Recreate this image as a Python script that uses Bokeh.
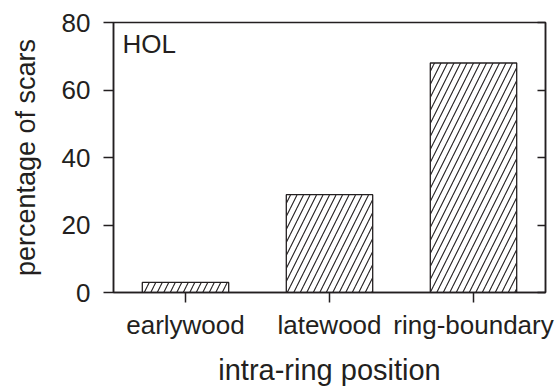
from bokeh.plotting import figure
from bokeh.models import LinearAxis, FactorRange, Range1d, FixedTicker, Label
from bokeh.embed import file_html
from bokeh.resources import INLINE

categories = ["earlywood", "latewood", "ring-boundary"]
percentages = [3, 29, 68]
y_ticks = [0, 20, 40, 60, 80]

FONT = "Liberation Sans"
INK = "#231f20"

p = figure(width=556, height=389, x_range=FactorRange(*categories, range_padding=0),
           y_range=Range1d(0, 80), output_backend="svg", toolbar_location=None,
           min_border_left=113, min_border_right=11, min_border_top=22, min_border_bottom=97)
p.xgrid.visible = False
p.ygrid.visible = False
p.outline_line_color = INK
p.outline_line_width = 1.5
p.background_fill_color = "white"
p.border_fill_color = "white"

p.vbar(x=categories, top=percentages, width=0.6, fill_color="white", line_color=INK,
       line_width=1.3, hatch_pattern="/", hatch_color=INK, hatch_scale=13, hatch_weight=1.1)

# left axis
ya = p.yaxis[0]
ya.ticker = FixedTicker(ticks=y_ticks)
ya.minor_tick_line_color = None
ya.major_tick_in = 0
ya.major_tick_out = 10
ya.major_tick_line_width = 1.5
ya.axis_line_width = 1.5
ya.axis_line_color = INK
ya.major_tick_line_color = INK
ya.major_label_text_font = FONT
ya.major_label_text_font_size = "26px"
ya.major_label_text_color = INK
ya.major_label_standoff = 13
ya.axis_label = "percentage of scars"
ya.axis_label_text_font = FONT
ya.axis_label_text_font_size = "27px"
ya.axis_label_text_font_style = "normal"
ya.axis_label_text_color = INK
ya.axis_label_standoff = 18

# bottom axis
xa = p.xaxis[0]
xa.major_tick_in = 0
xa.major_tick_out = 10
xa.major_tick_line_width = 1.5
xa.axis_line_width = 1.5
xa.axis_line_color = INK
xa.major_tick_line_color = INK
xa.major_label_text_font = FONT
xa.major_label_text_font_size = "26px"
xa.major_label_text_color = INK
xa.major_label_standoff = 7
xa.axis_label = "intra-ring position"
xa.axis_label_text_font = FONT
xa.axis_label_text_font_size = "29px"
xa.axis_label_text_font_style = "normal"
xa.axis_label_text_color = INK
xa.axis_label_standoff = 11

# right axis with inward ticks, no labels
ra = LinearAxis(ticker=FixedTicker(ticks=y_ticks),
                major_label_overrides={t: "" for t in y_ticks},
                major_tick_in=8, major_tick_out=0, minor_tick_line_color=None,
                axis_line_color=INK, axis_line_width=1.5, major_tick_line_color=INK,
                major_tick_line_width=1.5, major_label_standoff=0)
p.add_layout(ra, "right")

p.add_layout(Label(x=9, y=234, x_units="screen", y_units="screen", text="HOL",
                   text_font=FONT, text_font_size="26px", text_color=INK))

open("out.html", "w").write(file_html(p, INLINE))
